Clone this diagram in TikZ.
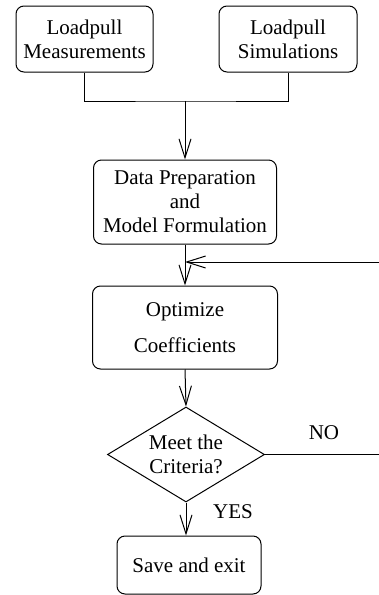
\documentclass[tikz,border=0pt]{standalone}
\usepackage{fontspec}
\setmainfont{Liberation Serif}
\usetikzlibrary{arrows.meta,shapes.geometric}
\begin{document}
\begin{tikzpicture}[x=0.5pt,y=-0.5pt,line width=0.5pt,
  every node/.style={font=\fontsize{10.5}{12}\selectfont},
  stepbox/.style={draw,rounded corners=4pt,align=center,inner sep=0pt},
  flow/.style={-{Straight Barb[length=9.5pt,width=6pt]}}]
\useasboundingbox (0,0) rectangle (379,595);
\node[stepbox,minimum width=68.5pt,minimum height=33pt] (meas) at (84.5,39) {Loadpull\\Measurements};
\node[stepbox,minimum width=69pt,minimum height=33pt] (sim) at (288,39) {Loadpull\\Simulations};
\node[stepbox,minimum width=91.5pt,minimum height=42pt] (prep) at (185,202) {Data Preparation\\and\\Model Formulation};
\node[stepbox,minimum width=92.5pt,minimum height=41.5pt] (opt) at (185,327.5) {Optimize\\[6pt]Coefficients};
\node[draw,diamond,shape aspect=1.65,inner sep=0pt,align=center,minimum width=78.5pt,minimum height=47.5pt] (crit) at (186,454.5) {Meet the\\Criteria?};
\node[stepbox,minimum width=72pt,minimum height=29pt] (save) at (189,565) {Save and exit};
\coordinate (join) at (185,101);
\coordinate (back) at (379,262);
\draw (meas.south) |- (join) -| (sim.south);
\draw[flow] (join) -- (prep.north);
\draw[flow] (prep.south) -- (opt.north);
\draw[flow] (back) -- (back -| prep.south);
\draw[flow] (opt.south) -- (crit.north);
\draw (crit.east) -- (crit.east -| back);
\draw[flow] (crit.south) -- (crit.south |- save.north);
\node (no) at (324,433) {NO};
\node (yes) at (233,512) {YES};
\end{tikzpicture}
\end{document}
